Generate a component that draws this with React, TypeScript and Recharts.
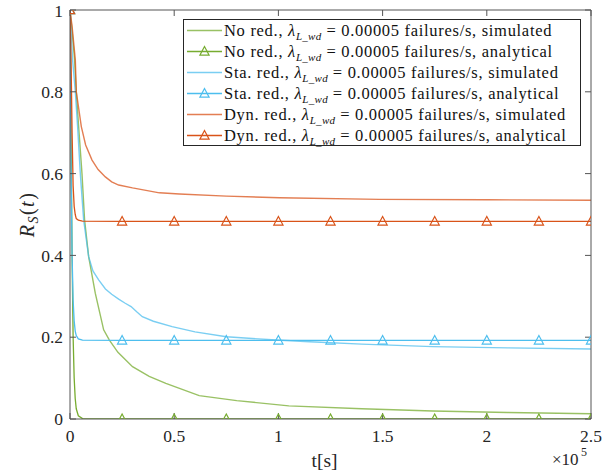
import React from 'react';
import { LineChart, Line, XAxis, YAxis, Label } from 'recharts';

const GREEN = '#77AC30';
const CYAN = '#4DBEEE';
const ORANGE = '#D95319';
const AXIS = '#555555';
const FONT = '"Liberation Serif", "DejaVu Serif", serif';

// tick values
const xTicks = [0, 50000, 100000, 150000, 200000, 250000];
const yTicks = [0, 0.2, 0.4, 0.6, 0.8, 1];
const markerT = [0, 25000, 50000, 75000, 100000, 125000, 150000, 175000, 200000, 225000, 250000];

// No redundancy, simulated
const noRedSimT = [0, 1000, 2200, 3000, 4150, 5750, 7000, 8950, 12150, 16150, 18900, 23000, 30000, 38000, 46000, 62000, 80000, 105000, 140000, 174000, 210000, 250000];
const noRedSimR = [1, 0.95, 0.878, 0.8, 0.715, 0.6, 0.487, 0.397, 0.307, 0.218, 0.193, 0.163, 0.128, 0.104, 0.087, 0.057, 0.045, 0.032, 0.025, 0.0196, 0.016, 0.013];

// Static redundancy, simulated
const staSimT = [0, 1250, 2550, 3650, 4950, 6550, 8950, 11000, 13750, 17000, 20000, 23350, 26500, 29300, 32000, 34700, 40000, 49000, 60000, 75000, 99000, 115000, 140000, 174000, 210000, 250000];
const staSimR = [1, 0.878, 0.8, 0.715, 0.6, 0.487, 0.397, 0.362, 0.34, 0.318, 0.305, 0.293, 0.283, 0.275, 0.262, 0.25, 0.239, 0.226, 0.213, 0.201, 0.193, 0.189, 0.183, 0.177, 0.174, 0.171];

// Dynamic redundancy, simulated
const dynSimT = [0, 1000, 2550, 3030, 5430, 7500, 10570, 13500, 16960, 20000, 23350, 30000, 42900, 52500, 75000, 100500, 148600, 200000, 250000];
const dynSimR = [1, 0.96, 0.878, 0.8, 0.715, 0.67, 0.633, 0.61, 0.592, 0.58, 0.572, 0.565, 0.553, 0.55, 0.545, 0.541, 0.537, 0.536, 0.535];

// Analytical curves (shared time grid)
const anaT = [0, 500, 1000, 1500, 2000, 2500, 3000, 4000, 6000, 25000, 50000, 75000, 100000, 125000, 150000, 175000, 200000, 225000, 250000];
const noRedAnaR = [1, 0.7, 0.4, 0.2, 0.1, 0.05, 0.025, 0.008, 0.001, 0, 0, 0, 0, 0, 0, 0, 0, 0, 0];
const staAnaR = [1, 0.62, 0.4, 0.29, 0.24, 0.215, 0.204, 0.196, 0.193, 0.192, 0.192, 0.192, 0.192, 0.192, 0.192, 0.192, 0.192, 0.192, 0.192];
const dynAnaR = [1, 0.88, 0.7, 0.57, 0.52, 0.5, 0.49, 0.486, 0.484, 0.483, 0.483, 0.483, 0.483, 0.483, 0.483, 0.483, 0.483, 0.483, 0.483];

// legend
const seriesNames = ['No red.', 'No red.', 'Sta. red.', 'Sta. red.', 'Dyn. red.', 'Dyn. red.'];
const seriesKinds = ['simulated', 'analytical', 'simulated', 'analytical', 'simulated', 'analytical'];
const seriesColors = [GREEN, GREEN, CYAN, CYAN, ORANGE, ORANGE];
const lambdaText = '0.00005';

const toData = (ts: number[], rs: number[]) =>
  ts.map((t, i) => ({ t, r: rs[i], m: markerT.includes(t) }));

const noRedSim = toData(noRedSimT, noRedSimR);
const staSim = toData(staSimT, staSimR);
const dynSim = toData(dynSimT, dynSimR);
const noRedAna = toData(anaT, noRedAnaR);
const staAna = toData(anaT, staAnaR);
const dynAna = toData(anaT, dynAnaR);

const triPath = (cx: number, cy: number) =>
  `M${cx},${cy - 5} L${cx + 4.6},${cy + 3.6} L${cx - 4.6},${cy + 3.6} Z`;

const markerDot = (color: string) => (props: any) => {
  const { cx, cy, payload, index } = props;
  if (!payload || !payload.m || cx == null || cy == null) return <g key={`e${index}`} />;
  return (
    <path key={`m${index}`} d={triPath(cx, cy)} fill="none" stroke={color} strokeWidth={1.2} />
  );
};

const SIM_OPACITY = 0.75;

const XLabelContent = (props: any) => {
  const vb = props.viewBox || { x: 70, y: 419, width: 521, height: 57 };
  const cx = vb.x + vb.width / 2 - 6;
  const right = vb.x + vb.width;
  return (
    <g fontFamily={FONT} fill="#262626">
      <text x={cx} y={vb.y + 48} fontSize={19.5} textAnchor="middle">t[s]</text>
      <text x={right - 39} y={vb.y + 46} fontSize={17}>×10</text>
      <text x={right - 10} y={vb.y + 37} fontSize={12}>5</text>
    </g>
  );
};

const YLabelContent = (props: any) => {
  const vb = props.viewBox || { x: 0, y: 10, width: 70, height: 409 };
  const cy = vb.y + vb.height / 2;
  const bx = 34;
  return (
    <text
      x={bx}
      y={cy}
      transform={`rotate(-90, ${bx}, ${cy})`}
      textAnchor="middle"
      fontFamily={FONT}
      fontSize={20}
      letterSpacing={1.5}
      fill="#262626"
    >
      <tspan fontStyle="italic">R</tspan>
      <tspan fontStyle="italic" fontSize={14} dy={4}>S</tspan>
      <tspan dy={-4}>(</tspan>
      <tspan fontStyle="italic">t</tspan>
      <tspan>)</tspan>
    </text>
  );
};

const LegendBox = () => (
  <div
    style={{
      position: 'absolute',
      left: 183,
      top: 19,
      width: 396,
      height: 125,
      border: '1px solid #262626',
      background: '#fff',
      fontFamily: FONT,
      fontSize: 16.5,
      letterSpacing: 0.7,
      color: '#111',
    }}
  >
    {seriesNames.map((name, i) => {
      const isSim = seriesKinds[i] === 'simulated';
      return (
        <div key={i} style={{ height: 21, lineHeight: '21px', display: 'flex', alignItems: 'center', whiteSpace: 'nowrap' }}>
          <svg width={40} height={21} style={{ flex: 'none' }}>
            <line
              x1={3}
              x2={38}
              y1={10.5}
              y2={10.5}
              stroke={seriesColors[i]}
              strokeWidth={isSim ? 1.6 : 1.3}
              strokeOpacity={isSim ? SIM_OPACITY : 1}
            />
            {!isSim && <path d={triPath(20.5, 10.5)} fill="none" stroke={seriesColors[i]} strokeWidth={1.2} />}
          </svg>
          <span>
            {name}, <i>λ</i>
            <sub style={{ fontSize: 11, fontStyle: 'italic', verticalAlign: '-4px', lineHeight: 0, letterSpacing: 0.3 }}>L_wd</sub>
            {' = ' + lambdaText + ' failures/s, ' + seriesKinds[i]}
          </span>
        </div>
      );
    })}
  </div>
);

const tickStyle = { fontFamily: FONT, fontSize: 17.5, fill: '#262626' };

export default function App() {
  return (
    <div style={{ position: 'absolute', left: 0, top: 0, width: 613, height: 476, background: '#fff' }}>
      <LineChart width={613} height={476} margin={{ top: 0, right: 0, bottom: 0, left: 0 }}>
        <XAxis
          dataKey="t"
          type="number"
          domain={[0, 250000]}
          ticks={xTicks}
          height={57}
          tickSize={-6}
          tickMargin={17}
          tickFormatter={(v: number) => String(v / 100000)}
          tick={tickStyle}
          stroke={AXIS}
          allowDataOverflow
        >
          <Label content={XLabelContent} />
        </XAxis>
        <XAxis
          xAxisId="top"
          orientation="top"
          dataKey="t"
          type="number"
          domain={[0, 250000]}
          ticks={xTicks}
          height={10}
          tickSize={-6}
          tickFormatter={() => ''}
          stroke={AXIS}
          allowDataOverflow
        />
        <YAxis
          type="number"
          domain={[0, 1]}
          ticks={yTicks}
          width={70}
          tickSize={-6}
          tickMargin={13}
          tickFormatter={(v: number) => String(v)}
          tick={tickStyle}
          stroke={AXIS}
          allowDataOverflow
        >
          <Label content={YLabelContent} />
        </YAxis>
        <YAxis
          yAxisId="right"
          orientation="right"
          type="number"
          domain={[0, 1]}
          ticks={yTicks}
          width={22}
          tickSize={-6}
          tickFormatter={() => ''}
          stroke={AXIS}
          allowDataOverflow
        />
        <Line data={noRedSim} dataKey="r" type="linear" stroke={GREEN} strokeOpacity={SIM_OPACITY} strokeWidth={1.4} dot={false} activeDot={false} isAnimationActive={false} />
        <Line data={noRedAna} dataKey="r" type="linear" stroke={GREEN} strokeWidth={1.3} dot={markerDot(GREEN)} activeDot={false} isAnimationActive={false} />
        <Line data={staSim} dataKey="r" type="linear" stroke={CYAN} strokeOpacity={SIM_OPACITY} strokeWidth={1.4} dot={false} activeDot={false} isAnimationActive={false} />
        <Line data={staAna} dataKey="r" type="linear" stroke={CYAN} strokeWidth={1.3} dot={markerDot(CYAN)} activeDot={false} isAnimationActive={false} />
        <Line data={dynSim} dataKey="r" type="linear" stroke={ORANGE} strokeOpacity={SIM_OPACITY} strokeWidth={1.4} dot={false} activeDot={false} isAnimationActive={false} />
        <Line data={dynAna} dataKey="r" type="linear" stroke={ORANGE} strokeWidth={1.3} dot={markerDot(ORANGE)} activeDot={false} isAnimationActive={false} />
      </LineChart>
      <LegendBox />
    </div>
  );
}
